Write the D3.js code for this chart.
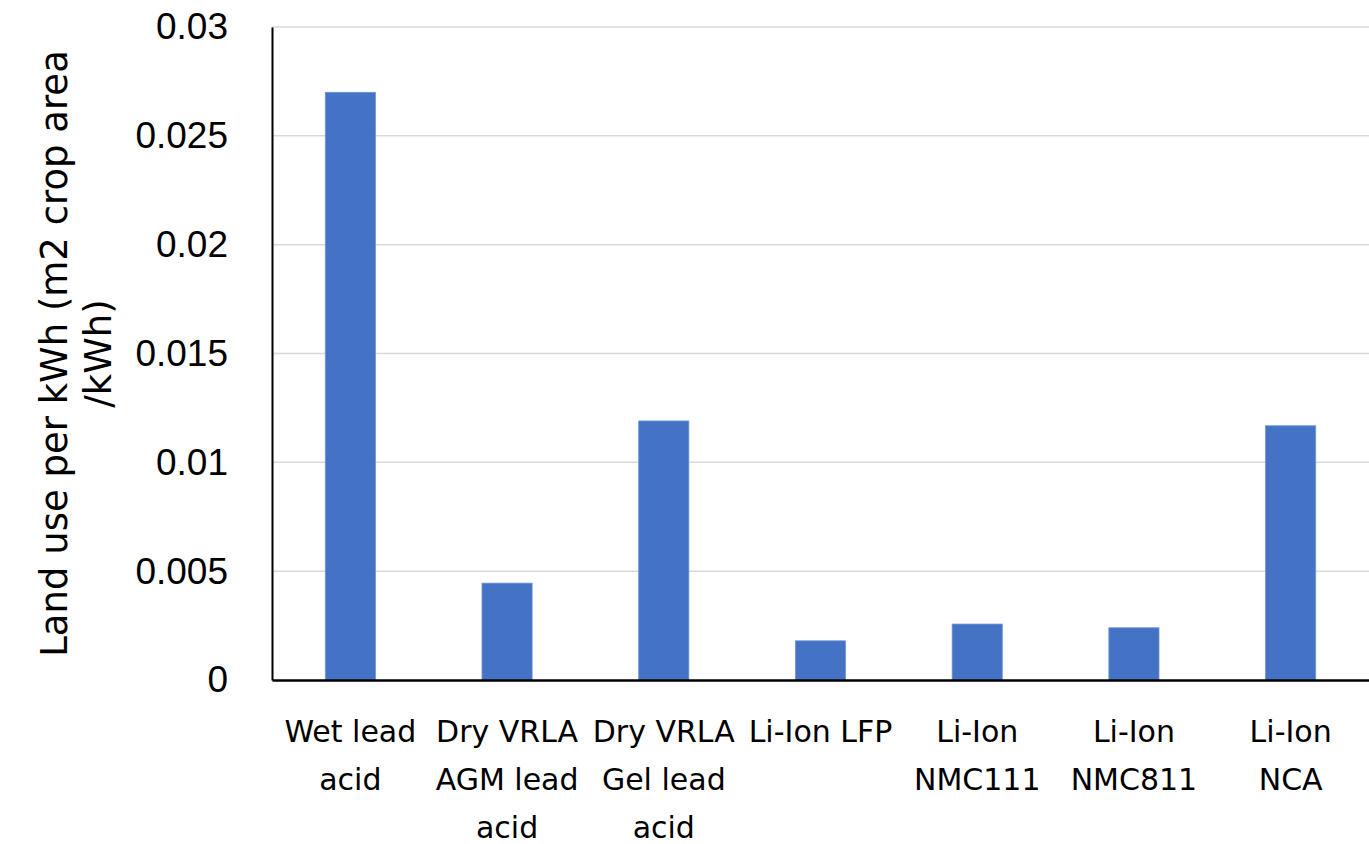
<!DOCTYPE html>
<html>
<head>
<meta charset="utf-8">
<script src="https://cdn.jsdelivr.net/npm/d3@7"></script>
<style>
  html, body { margin: 0; padding: 0; background: #ffffff; }
  svg { display: block; }
</style>
</head>
<body>
<svg id="chart" width="1369" height="844"></svg>
<script>
// Battery types and land use per kWh (m2 crop area / kWh)
const categories = [
  ["Wet lead", "acid"],
  ["Dry VRLA", "AGM lead", "acid"],
  ["Dry VRLA", "Gel lead", "acid"],
  ["Li-Ion LFP"],
  ["Li-Ion", "NMC111"],
  ["Li-Ion", "NMC811"],
  ["Li-Ion", "NCA"]
];
const landUse = [0.0270, 0.00445, 0.0119, 0.00180, 0.00257, 0.00240, 0.01168];
const yTicks = [0, 0.005, 0.01, 0.015, 0.02, 0.025, 0.03];
const yTickLabels = ["0", "0.005", "0.01", "0.015", "0.02", "0.025", "0.03"];
const yTitle = ["Land use per kWh (m2 crop area", "/kWh)"];

const svg = d3.select("#chart");
const margin = { left: 272, right: 0, top: 27, bottom: 164 };
const width = 1369, height = 844;
const labelFont = "'DejaVu Sans', 'Open Sans', sans-serif";

const keys = categories.map((c, i) => i);
const x = d3.scaleBand()
  .domain(keys)
  .range([margin.left, width - margin.right])
  .paddingInner(0.68)
  .paddingOuter(0.34);

const y = d3.scaleLinear()
  .domain([0, 0.03])
  .range([height - margin.bottom, margin.top]);

// Gridlines
svg.append("g")
  .selectAll("line")
  .data(yTicks.filter(t => t > 0))
  .join("line")
  .attr("x1", margin.left)
  .attr("x2", width)
  .attr("y1", d => y(d))
  .attr("y2", d => y(d))
  .attr("stroke", "#d9d9d9")
  .attr("stroke-width", 1.5);

// Bars
svg.append("g")
  .selectAll("rect")
  .data(landUse)
  .join("rect")
  .attr("x", (d, i) => x(i))
  .attr("width", x.bandwidth())
  .attr("y", d => y(d))
  .attr("height", d => y(0) - y(d))
  .attr("fill", "#4472c4")
  .attr("stroke", "#6f93d6")
  .attr("stroke-width", 0.8);

// Y axis
const yAxis = d3.axisLeft(y)
  .tickValues(yTicks)
  .tickFormat((d, i) => yTickLabels[i])
  .tickSize(0)
  .tickPadding(44);

const yg = svg.append("g")
  .attr("transform", `translate(${margin.left},0)`)
  .call(yAxis);
yg.select(".domain").attr("stroke", "#000").attr("stroke-width", 2);
yg.selectAll("text")
  .attr("font-family", "'Liberation Sans', Arial, sans-serif")
  .attr("font-size", 37)
  .attr("fill", "#000");

// X axis
const xAxis = d3.axisBottom(x).tickSize(0).tickFormat("");
const xg = svg.append("g")
  .attr("transform", `translate(0,${y(0)})`)
  .call(xAxis);
xg.select(".domain").attr("stroke", "#000").attr("stroke-width", 2.5);

// Multi-line category labels
xg.selectAll(".tick").each(function(d) {
  const t = d3.select(this).append("text")
    .attr("text-anchor", "middle")
    .attr("font-family", labelFont)
    .attr("font-size", 30)
    .attr("fill", "#000");
  categories[d].forEach((line, j) => {
    t.append("tspan")
      .attr("x", 0)
      .attr("y", 62 + j * 48)
      .text(line);
  });
});

// Y axis title
const title = svg.append("text")
  .attr("transform", `translate(67,${(y(0) + y(0.03)) / 2}) rotate(-90)`)
  .attr("text-anchor", "middle")
  .attr("font-family", labelFont)
  .attr("font-size", 37)
  .attr("fill", "#000");
yTitle.forEach((line, j) => {
  title.append("tspan")
    .attr("x", 0)
    .attr("y", j * 44)
    .text(line);
});
</script>
</body>
</html>
